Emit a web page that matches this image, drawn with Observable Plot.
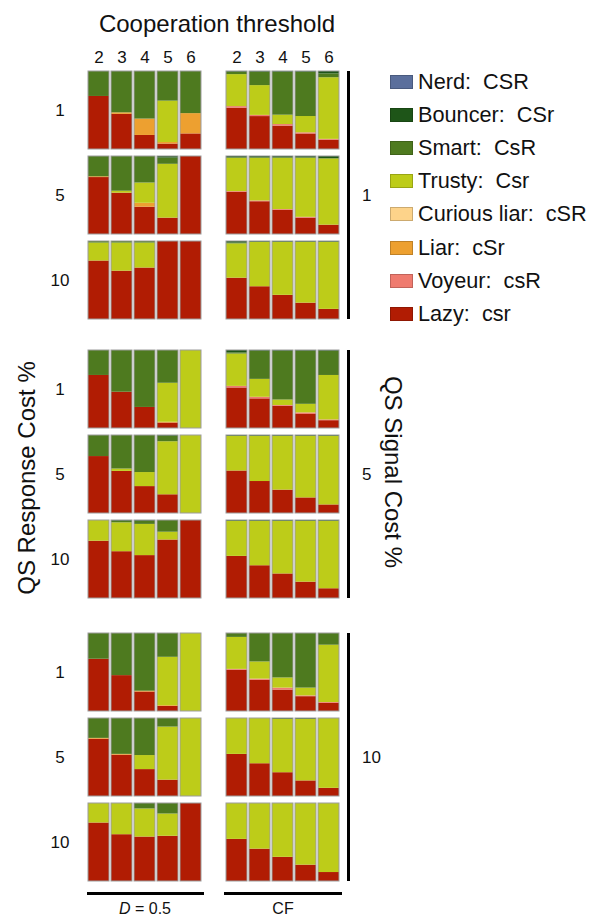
<!DOCTYPE html>
<html>
<head>
<meta charset="utf-8">
<script src="https://cdn.jsdelivr.net/npm/d3@7"></script>
<script src="https://cdn.jsdelivr.net/npm/@observablehq/plot@0.6"></script>
<style>
  html, body { margin: 0; padding: 0; background: #fff; }
  #root { position: relative; width: 598px; height: 919px; font-family: "Liberation Sans", Arial, sans-serif; color: #111; overflow: hidden; }
  .abs { position: absolute; }
  .t { position: absolute; white-space: pre; line-height: 1; }
  .plotbox svg { display: block; background: none; }
</style>
</head>
<body>
<div id="root"></div>
<script>
// ---------- categories ----------
const thresholds = [2, 3, 4, 5, 6];
// bottom-to-top stacking order
const strategies = ["Lazy: csr", "Voyeur: csR", "Liar: cSr", "Curious liar: cSR", "Trusty: Csr", "Smart: CsR", "Bouncer: CSr", "Nerd: CSR"];
const colors = ["#b11c03", "#ef7b6f", "#eda030", "#fdd38a", "#bdcc19", "#4e7a1f", "#1e5518", "#5b6f9c"];
const columnLabels = ["D = 0.5", "CF"];
const signalCosts = ["1", "5", "10"];
const responseCosts = ["1", "5", "10"];

// ---------- values: each bar = [Lazy, Voyeur, Liar, Curious liar, Trusty, Smart, Bouncer, Nerd] ----------
// D = 0.5, signal cost 1
const d05_s1_r1 = [[0.68,0,0,0,0,0.32,0,0],[0.45,0,0.02,0,0,0.53,0,0],[0.18,0,0.21,0,0,0.61,0,0],[0.07,0,0.02,0,0.53,0.38,0,0],[0.20,0,0.26,0,0,0.54,0,0]];
const d05_s1_r5 = [[0.73,0,0.01,0,0,0.26,0,0],[0.53,0,0,0,0.025,0.445,0,0],[0.35,0,0.05,0,0.26,0.34,0,0],[0.21,0,0,0,0.69,0.08,0.02,0],[1,0,0,0,0,0,0,0]];
const d05_s1_r10 = [[0.75,0,0,0,0.23,0.02,0,0],[0.62,0,0,0,0.36,0.02,0,0],[0.66,0,0,0,0.32,0.02,0,0],[1,0,0,0,0,0,0,0],[1,0,0,0,0,0,0,0]];
// CF, signal cost 1
const cf_s1_r1 = [[0.53,0.02,0,0,0.41,0.03,0.01,0],[0.42,0.015,0,0,0.38,0.17,0.01,0],[0.30,0.02,0,0,0.12,0.55,0.01,0],[0.20,0.015,0,0,0.21,0.57,0.01,0],[0.12,0.01,0,0,0.79,0.05,0.03,0]];
const cf_s1_r5 = [[0.54,0.01,0,0,0.43,0,0.02,0],[0.42,0.01,0,0,0.55,0,0.02,0],[0.31,0.01,0,0,0.66,0,0.02,0],[0.21,0.01,0,0,0.76,0,0.02,0],[0.12,0,0,0,0.85,0,0.03,0]];
const cf_s1_r10 = [[0.53,0,0,0,0.44,0.01,0.02,0],[0.42,0,0,0,0.57,0,0.01,0],[0.31,0,0,0,0.68,0,0.01,0],[0.21,0,0,0,0.78,0,0.01,0],[0.13,0,0,0,0.86,0,0.01,0]];
// D = 0.5, signal cost 5
const d05_s5_r1 = [[0.68,0,0,0,0,0.32,0,0],[0.465,0,0,0,0,0.535,0,0],[0.27,0,0,0,0,0.73,0,0],[0.07,0,0.01,0,0.50,0.42,0,0],[0,0,0,0,1,0,0,0]];
const d05_s5_r5 = [[0.73,0,0,0,0,0.27,0,0],[0.54,0,0,0,0.03,0.43,0,0],[0.345,0,0,0,0.18,0.475,0,0],[0.24,0,0,0,0.68,0.07,0.01,0],[0,0,0,0,1,0,0,0]];
const d05_s5_r10 = [[0.735,0,0,0,0.265,0,0,0],[0.60,0,0,0,0.37,0.02,0.01,0],[0.55,0,0,0,0.40,0.04,0.01,0],[0.75,0,0,0,0.10,0.15,0,0],[1,0,0,0,0,0,0,0]];
// CF, signal cost 5
const cf_s5_r1 = [[0.52,0.02,0,0,0.415,0.015,0.03,0],[0.38,0.02,0,0,0.23,0.36,0.01,0],[0.285,0.01,0,0,0.07,0.625,0.01,0],[0.18,0.02,0,0,0.11,0.68,0.01,0],[0.10,0.01,0,0,0.57,0.31,0.01,0]];
const cf_s5_r5 = [[0.545,0,0,0,0.445,0,0.01,0],[0.41,0,0,0,0.58,0,0.01,0],[0.30,0,0,0,0.69,0,0.01,0],[0.20,0,0,0,0.79,0,0.01,0],[0.11,0,0,0,0.88,0,0.01,0]];
const cf_s5_r10 = [[0.54,0,0,0,0.45,0,0.01,0],[0.42,0,0,0,0.57,0,0.01,0],[0.315,0,0,0,0.675,0,0.01,0],[0.21,0,0,0,0.78,0,0.01,0],[0.125,0,0,0,0.865,0,0.01,0]];
// D = 0.5, signal cost 10
const d05_s10_r1 = [[0.67,0,0,0,0,0.33,0,0],[0.46,0,0,0,0,0.54,0,0],[0.25,0,0.01,0,0,0.74,0,0],[0.065,0,0.01,0,0.62,0.305,0,0],[0,0,0,0,1,0,0,0]];
const d05_s10_r5 = [[0.735,0,0.01,0,0,0.255,0,0],[0.53,0,0.01,0,0,0.46,0,0],[0.345,0,0,0,0.18,0.475,0,0],[0.21,0,0,0,0.68,0.11,0,0],[0,0,0,0,1,0,0,0]];
const d05_s10_r10 = [[0.75,0,0,0,0.25,0,0,0],[0.60,0,0,0,0.40,0,0,0],[0.57,0,0,0,0.36,0.07,0,0],[0.58,0,0,0,0.285,0.135,0,0],[1,0,0,0,0,0,0,0]];
// CF, signal cost 10
const cf_s10_r1 = [[0.53,0.01,0,0,0.41,0.05,0,0],[0.40,0.015,0,0,0.22,0.365,0,0],[0.275,0.025,0,0,0.13,0.57,0,0],[0.19,0.01,0,0,0.10,0.70,0,0],[0.105,0.01,0,0,0.735,0.15,0,0]];
const cf_s10_r5 = [[0.54,0,0,0,0.46,0,0,0],[0.42,0,0,0,0.58,0,0,0],[0.305,0,0,0,0.685,0,0.01,0],[0.20,0,0,0,0.79,0,0.01,0],[0.105,0,0,0,0.895,0,0,0]];
const cf_s10_r10 = [[0.54,0,0,0,0.46,0,0,0],[0.415,0,0,0,0.585,0,0,0],[0.31,0,0,0,0.69,0,0,0],[0.21,0,0,0,0.79,0,0,0],[0.115,0,0,0,0.885,0,0,0]];

const panels = [
  [[d05_s1_r1, d05_s1_r5, d05_s1_r10], [cf_s1_r1, cf_s1_r5, cf_s1_r10]],
  [[d05_s5_r1, d05_s5_r5, d05_s5_r10], [cf_s5_r1, cf_s5_r5, cf_s5_r10]],
  [[d05_s10_r1, d05_s10_r5, d05_s10_r10], [cf_s10_r1, cf_s10_r5, cf_s10_r10]]
];

// ---------- layout ----------
const root = document.getElementById("root");
const FONT = "'Liberation Sans', Arial, sans-serif";
const colX = [86, 225], colW = [117, 115];
const groupTop = [71, 350, 633];
const rowStep = 85, panelH = 78, axisH = 32;

function text(str, x, y, size, opts = {}) {
  const d = document.createElement("div");
  d.className = "t";
  d.textContent = str;
  d.style.fontSize = size + "px";
  d.style.left = x + "px";
  d.style.top = y + "px";
  d.style.transform = opts.transform || "translate(-50%,-50%)";
  if (opts.html) d.innerHTML = opts.html;
  root.appendChild(d);
  return d;
}
function rect(x, y, w, h, bg) {
  const d = document.createElement("div");
  d.className = "abs";
  Object.assign(d.style, {left: x + "px", top: y + "px", width: w + "px", height: h + "px", background: bg});
  root.appendChild(d);
  return d;
}

function panel(bars, w, withAxis) {
  const data = [];
  bars.forEach((b, i) => b.forEach((v, j) => { if (v > 0) data.push({t: thresholds[i], s: strategies[j], v}); }));
  const marks = [
    Plot.rectY(data, Plot.stackY({x: "t", y: "v", fill: "s", offset: "normalize"})),
    Plot.barY(thresholds, {x: d => d, y1: 0, y2: 1, fill: "none", stroke: "#9c9c9c", strokeWidth: 1})
  ];
  if (withAxis) marks.push(Plot.axisX({anchor: "top", tickSize: 0, tickPadding: 9, fontSize: 17, label: null, fill: "#111"}));
  return Plot.plot({
    width: w,
    height: panelH + (withAxis ? axisH : 0),
    marginTop: withAxis ? axisH : 0, marginBottom: 0, marginLeft: 0, marginRight: 0,
    style: {fontFamily: FONT, color: "#111", background: "none", overflow: "visible"},
    x: {domain: thresholds, paddingInner: 0.07, paddingOuter: 0.03, axis: null},
    y: {domain: [0, 1], axis: null},
    color: {domain: strategies, range: colors},
    marks
  });
}

panels.forEach((grp, g) => {
  grp.forEach((col, c) => {
    col.forEach((bars, r) => {
      const withAxis = g === 0 && r === 0;
      const top = groupTop[g] + r * rowStep - (withAxis ? axisH : 0);
      const box = document.createElement("div");
      box.className = "abs plotbox";
      box.style.left = colX[c] + "px";
      box.style.top = top + "px";
      box.appendChild(panel(bars, colW[c], withAxis));
      root.appendChild(box);
      if (c === 0) text(responseCosts[r], 60, groupTop[g] + r * rowStep + panelH / 2, 17);
    });
  });
  // signal cost bracket
  rect(346.5, groupTop[g], 3, 2 * rowStep + panelH, "#000");
  text(signalCosts[g], 362, groupTop[g] + rowStep + panelH / 2, 17, {transform: "translate(0,-50%)"});
});

// titles
text("Cooperation threshold", 217, 24, 24);
text("QS Response Cost %", 27, 478, 24, {transform: "translate(-50%,-50%) rotate(-90deg)"});
text("QS Signal Cost %", 393, 472, 24, {transform: "translate(-50%,-50%) rotate(90deg)"});

// bottom column labels
rect(87, 892, 117, 2.5, "#000");
rect(224, 892, 118, 2.5, "#000");
text("", 145, 909, 16, {html: "<i>D</i> = 0.5"});
text(columnLabels[1], 283, 909, 16);

// legend (top to bottom)
const legendOrder = strategies.map((s, i) => [s, colors[i]]).reverse();
legendOrder.forEach(([s, col], i) => {
  const y = 82 + i * 33.1;
  const sw = rect(390, y - 7, 23, 14, col);
  sw.style.boxSizing = "border-box";
  sw.style.border = "1px solid " + d3.color(col).darker(0.6).formatHex();
  text(s.replace(": ", ":  "), 418, y, 21.7, {transform: "translate(0,-50%)"});
});
</script>
</body>
</html>
